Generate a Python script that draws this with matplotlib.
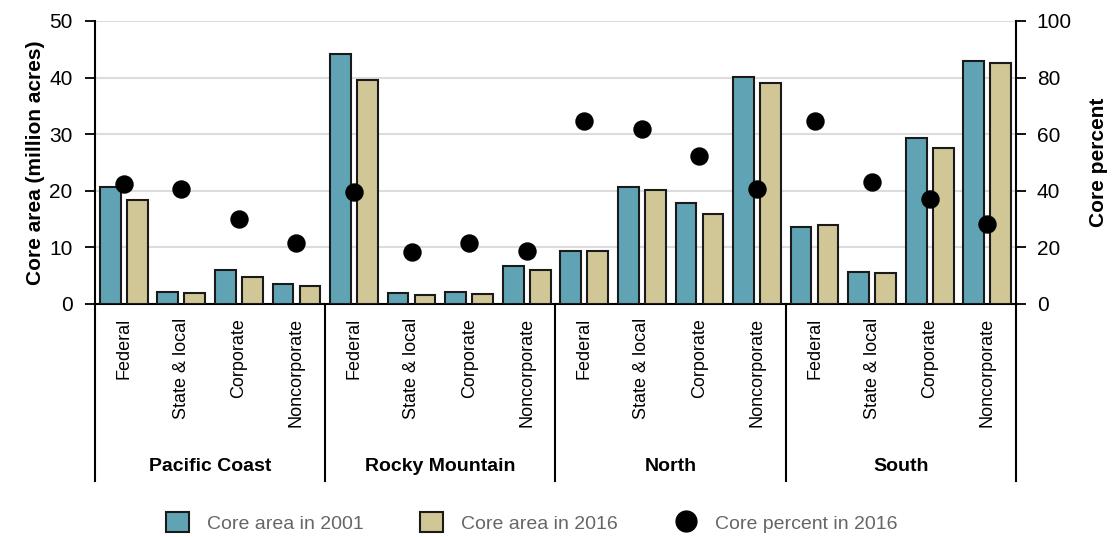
import matplotlib.pyplot as plt
import numpy as np
from matplotlib.lines import Line2D
from matplotlib.patches import Patch

plt.rcParams['font.family'] = ['Liberation Sans', 'DejaVu Sans']

regions = ['Pacific Coast', 'Rocky Mountain', 'North', 'South']
owners = ['Federal', 'State & local', 'Corporate', 'Noncorporate']

core_2001 = [20.6, 2.2, 6.0, 3.5,
             44.2, 1.9, 2.2, 6.8,
             9.4, 20.6, 17.8, 40.1,
             13.6, 5.6, 29.4, 42.9]
core_2016 = [18.4, 2.0, 4.7, 3.2,
             39.6, 1.6, 1.8, 6.0,
             9.3, 20.2, 15.9, 39.1,
             13.9, 5.5, 27.6, 42.6]
pct_2016 = [42.3, 40.8, 29.9, 21.4,
            39.4, 18.5, 21.7, 18.7,
            64.8, 62.0, 52.2, 40.8,
            64.5, 43.1, 37.2, 28.3]

c_blue = '#5fa3b5'
c_tan = '#d0c696'
edge = '#1a1a1a'

fig = plt.figure(figsize=(11.12, 5.37), dpi=100)
ax = fig.add_axes([0.0854, 0.4339, 0.8283, 0.5270])

x = np.arange(len(core_2001))
w = 0.36
off = 0.235
ax.bar(x - off, core_2001, w, color=c_blue, edgecolor=edge, linewidth=1.5, zorder=3)
ax.bar(x + off, core_2016, w, color=c_tan, edgecolor=edge, linewidth=1.5, zorder=3)

ax.set_xlim(-0.5, len(x) - 0.5)
ax.set_ylim(0, 50)
ax.set_yticks(range(0, 51, 10))
ax.yaxis.grid(True, color='#dcdcdc', linewidth=1.5, zorder=0)
ax.set_axisbelow(True)
ax.tick_params(axis='y', labelsize=15, length=7, width=1.3, direction='out', pad=9)
ax.set_ylabel('Core area (million acres)', fontsize=15, fontweight='bold', labelpad=3)

ax.set_xticks(x)
ax.set_xticklabels(owners * 4, rotation=90, fontsize=13, va='top')
ax.tick_params(axis='x', length=0, pad=10)

for s in ['top', 'right']:
    ax.spines[s].set_visible(False)
ax.spines['left'].set_linewidth(1.5)
ax.spines['bottom'].set_linewidth(1.5)

ax2 = ax.twinx()
ax2.scatter(x, pct_2016, s=150, color='black', zorder=5, clip_on=False)
ax2.set_ylim(0, 100)
ax2.set_yticks(range(0, 101, 20))
ax2.tick_params(axis='y', labelsize=15, length=7, width=1.3, direction='out', pad=8)
ax2.set_ylabel('Core percent', fontsize=15, fontweight='bold', labelpad=12)
for s in ['top', 'left', 'bottom']:
    ax2.spines[s].set_visible(False)
ax2.spines['right'].set_linewidth(1.5)

# group dividers and region names below the axis
tr = ax.get_xaxis_transform()
for b in [-0.5, 3.5, 7.5, 11.5, 15.5]:
    ax.plot([b, b], [0, -0.625], transform=tr, color='black', linewidth=1.5, clip_on=False)
for i, r in enumerate(regions):
    ax.text(4 * i + 1.5, -0.575, r, transform=tr, ha='center', va='center',
            fontsize=14, fontweight='bold')

handles = [Patch(facecolor=c_blue, edgecolor=edge, linewidth=1.5),
           Patch(facecolor=c_tan, edgecolor=edge, linewidth=1.5),
           Line2D([], [], marker='o', linestyle='none', color='black', markersize=15)]
lg = fig.legend(handles, ['Core area in 2001', 'Core area in 2016', 'Core percent in 2016'],
                loc='lower center', bbox_to_anchor=(0.478, -0.025), ncol=3, frameon=False,
                fontsize=14, handlelength=1.2, handleheight=1.2, columnspacing=2.9,
                handletextpad=0.9)
for t in lg.get_texts():
    t.set_color('#666666')

fig.savefig('out.png', dpi=100)
